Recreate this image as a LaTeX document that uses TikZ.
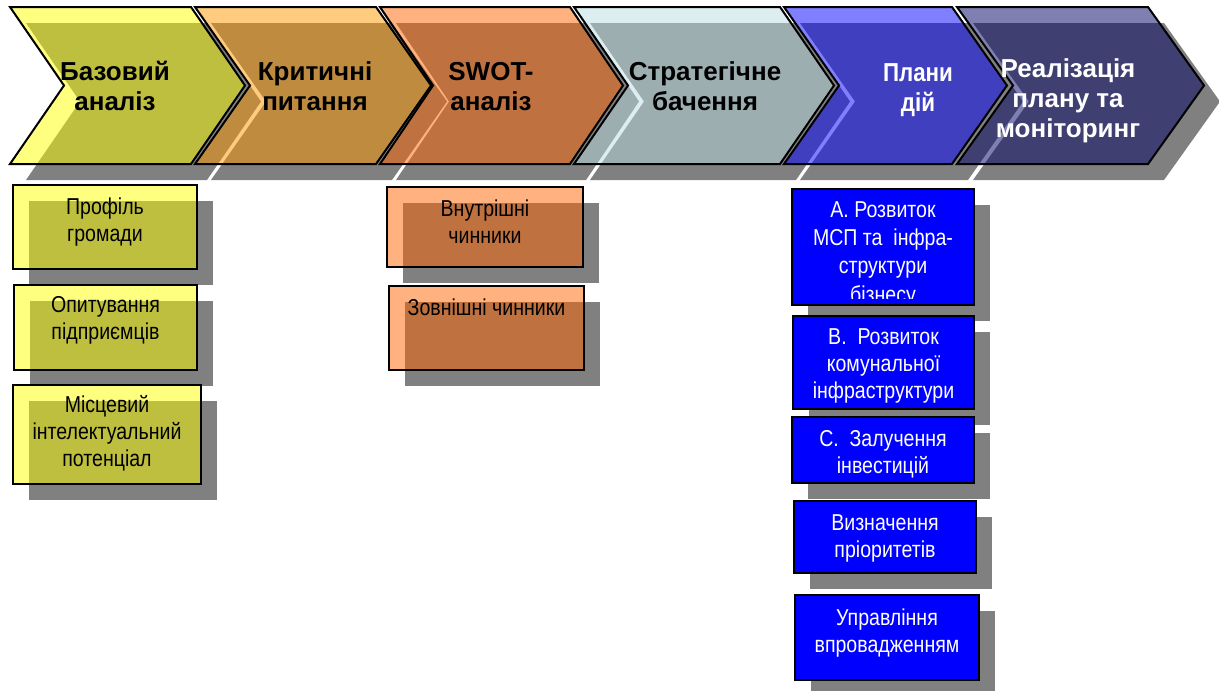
\documentclass[tikz,border=0pt]{standalone}
\usepackage{fontspec}
\usepackage{graphicx}
\setmainfont{Liberation Sans}
\usetikzlibrary{calc}
\definecolor{shd}{RGB}{128,128,128}
\definecolor{c1}{RGB}{255,255,0}
\definecolor{c2}{RGB}{255,153,0}
\definecolor{c3}{RGB}{255,102,0}
\definecolor{c4}{RGB}{187,221,226}
\definecolor{c5}{RGB}{0,0,255}
\definecolor{c6}{RGB}{0,0,102}
\newcommand\ml[1]{\begin{tabular}[t]{@{}c@{}}#1\end{tabular}}
\newcommand\sml[1]{\scalebox{0.85}[1]{\ml{#1}}}
% chevron: a (left), b (top-right), c (tip), style
\newcommand\chev[4]{\path[#4] (#1,7) -- (#2,7) -- (#3,85.5) -- (#2,164) -- (#1,164) -- ({#1+#3-#2},85.5) -- cycle;}
% box: name, style, x1, y1, x2, y2
\newcommand\bx[6]{%
  \fill[shd] (#3+16,#4+16) rectangle (#5+16,#6+16);
  \node[#2, minimum width={(#5-#3)*0.75pt}, minimum height={(#6-#4)*0.75pt}] (#1) at ({(#3+#5)/2},{(#4+#6)/2}) {};}
\tikzset{
  chevline/.style={draw=black, line width=1.5pt, line join=miter, fill opacity=0.5},
  lbox/.style={draw=black, line width=1.5pt, inner sep=0pt, fill opacity=0.5},
  ybox/.style={lbox, fill=c1},
  obox/.style={lbox, fill=c3},
  bbox/.style={draw=black, line width=1.5pt, inner sep=0pt, fill=c5},
  stxt/.style={inner sep=0pt, anchor=base, font=\fontsize{17.25}{20.25}\selectfont},
  ctxt/.style={inner sep=0pt, anchor=base, font=\fontsize{19.5}{22.5}\selectfont\bfseries},
}
\begin{document}
\begin{tikzpicture}[x=0.75pt,y=-0.75pt]
\useasboundingbox (0,0) rectangle (1219,690);
% chevron shadows
\chev{10}{191}{245}{fill=shd, shift={(16,16)}}
\chev{195}{376}{431}{fill=shd, shift={(16,16)}}
\chev{380}{570}{623}{fill=shd, shift={(16,16)}}
\chev{574}{780}{834}{fill=shd, shift={(16,16)}}
\chev{784}{952}{1007}{fill=shd, shift={(16,16)}}
\chev{957}{1148}{1204}{fill=shd, shift={(16,16)}}
% chevrons
\chev{10}{191}{245}{chevline, fill=c1}
\chev{195}{376}{431}{chevline, fill=c2}
\chev{380}{570}{623}{chevline, fill=c3}
\chev{574}{780}{834}{chevline, fill=c4}
\chev{784}{952}{1007}{chevline, fill=c5}
\chev{957}{1148}{1204}{chevline, fill=c6}
% chevron texts
\node[ctxt] (t1) at (115,80) {\ml{Базовий\\аналіз}};
\node[ctxt] (t2) at (315,80) {\ml{Критичні\\питання}};
\node[ctxt] (t3) at (491,80) {\ml{SWOT-\\аналіз}};
\node[ctxt] (t4) at (705,80) {\ml{Стратегічне\\бачення}};
\node[ctxt, text=white] (t5) at (918,81) {\scalebox{0.86}[1]{\ml{Плани\\дій}}};
\node[ctxt, text=white] (t6) at (1068,77) {\ml{Реалізація\\плану та\\моніторинг}};
% left boxes
\bx{y1}{ybox}{13}{185}{197}{269}
\bx{y2}{ybox}{14}{285}{197}{370}
\bx{y3}{ybox}{13}{385}{201}{484}
\node[stxt] (y1t) at ([yshift=-22.9pt]y1.north) {\sml{Профіль\\громади}};
\node[stxt] (y2t) at ([yshift=-21.2pt]y2.north) {\sml{Опитування\\підприємців}};
\node[stxt] (y3t) at ([yshift=-21pt]y3.north) {\sml{Місцевий\\інтелектуальний\\потенціал}};
% SWOT boxes
\bx{o1}{obox}{387}{187}{583}{267}
\bx{o2}{obox}{389}{286}{584}{370}
\node[stxt] (o1t) at ([yshift=-22.5pt]o1.north) {\sml{Внутрішні\\чинники}};
\node[stxt] (o2t) at ([yshift=-22.5pt]o2.north) {\sml{Зовнішні чинники}};
% blue boxes
\bx{b1}{bbox}{792}{189}{974}{305}
\bx{b2}{bbox}{793}{316}{974}{409}
\bx{b3}{bbox}{792}{417}{974}{483}
\bx{b4}{bbox}{794}{501}{976}{573}
\bx{b5}{bbox}{795}{595}{979}{680}
\begin{scope}
\clip (b1.north west) rectangle ([yshift=5.5pt]b1.south east);
\node[stxt, text=white, font=\fontsize{17.25}{21.2}\selectfont] (b1t) at ([yshift=-22pt]b1.north) {\sml{А. Розвиток\\МСП та\ \ інфра-\\структури\\бізнесу}};
\end{scope}
\begin{scope}
\clip (b2.north west) rectangle ([yshift=5.5pt]b2.south east);
\node[stxt, text=white] (b2t) at ([yshift=-21.75pt]b2.north) {\sml{В.\ \ Розвиток\\комунальної\\інфраструктури}};
\end{scope}
\node[stxt, text=white] (b3t) at ([yshift=-22.5pt]b3.north) {\sml{С.\ \ Залучення\\інвестицій}};
\node[stxt, text=white] (b4t) at ([yshift=-22.5pt]b4.north) {\sml{Визначення\\пріоритетів}};
\node[stxt, text=white] (b5t) at ([yshift=-23.8pt]b5.north) {\sml{Управління\\впровадженням}};
\end{tikzpicture}
\end{document}
